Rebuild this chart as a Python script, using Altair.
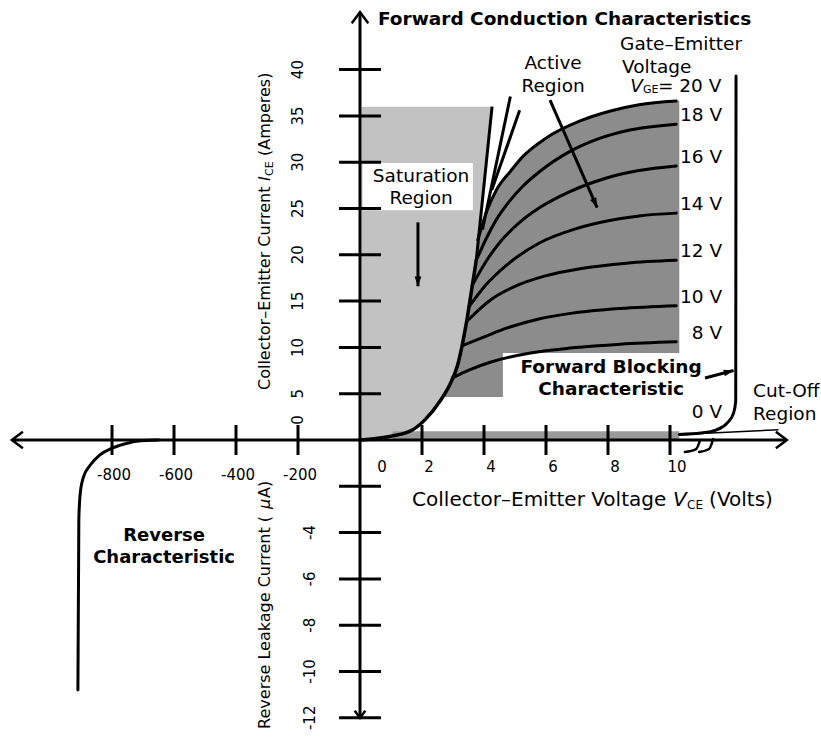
import math
import numpy as np
import pandas as pd
import altair as alt

FONT = "DejaVu Sans"
INK = "#000000"

# ---------------- values ----------------
# Output characteristics: one curve per gate-emitter voltage (V_CE in V, I_CE in A)
vge_levels = [20, 18, 16, 14, 12, 10, 8]
vce_curves = [
    [3.8, 4.1, 4.4, 4.85, 5.25, 6.0, 7.1, 8.05, 9.0, 10.2],
    [3.75, 4.05, 4.4, 4.85, 5.25, 5.8, 6.85, 7.75, 8.6, 10.2],
    [3.62, 4.05, 4.5, 5.15, 5.8, 6.75, 7.95, 9.0, 10.2],
    [3.52, 4.05, 4.7, 5.8, 6.95, 8.05, 9.0, 10.2],
    [3.44, 4.2, 5.0, 5.95, 7.1, 8.6, 10.2],
    [3.3, 4.05, 4.75, 5.8, 6.85, 8.4, 10.2],
    [2.98, 3.55, 4.2, 5.5, 6.85, 8.4, 10.2],
]
ice_curves = [
    [21.6, 24.8, 27.0, 29.0, 30.6, 32.6, 34.45, 35.5, 36.2, 36.6],
    [19.4, 21.6, 23.8, 25.9, 27.4, 29.0, 31.3, 32.6, 33.4, 34.1],
    [16.7, 19.2, 21.3, 23.5, 25.1, 26.8, 28.3, 29.1, 29.6],
    [14.4, 16.7, 18.8, 21.3, 22.8, 23.7, 24.2, 24.5],
    [12.8, 15.1, 16.6, 17.7, 18.5, 19.1, 19.4],
    [10.2, 11.2, 12.1, 13.1, 13.7, 14.2, 14.5],
    [6.7, 7.6, 8.4, 9.4, 9.95, 10.35, 10.6],
]

# Saturation boundary (knee curve) from the origin
sat_v = [0, 1.0, 1.7, 2.1, 2.6, 2.9, 3.15, 3.3, 3.45, 3.6, 3.75]
sat_i = [0, 0.4, 1.1, 2.2, 4.3, 6.0, 8.1, 10.3, 13.0, 16.2, 19.4]
# Steep on-state lines rising out of the knee
steep_v = [[3.75, 4.26], [3.95, 4.85], [4.25, 5.15]]
steep_i = [[19.4, 36.0], [22.7, 37.1], [27.0, 35.6]]
sat_top_i = 36.0

# Forward blocking / avalanche characteristic (V_GE = 0 V)
block_v = [10.3, 11.0, 11.5, 11.85, 12.05, 12.12, 12.13]
block_i = [0.6, 0.75, 1.1, 1.85, 2.9, 4.2, 39.3]
cutoff_v = [10.3, 13.5]
cutoff_i = [0.6, 1.1]

# Reverse characteristic (V in volts, leakage in microamperes)
rev_v = [-650, -720, -760, -800, -840, -870, -893, -903, -907, -910]
rev_ua = [0, -0.05, -0.17, -0.35, -0.65, -1.08, -1.64, -2.38, -3.46, -10.8]

# Axis ticks
y_ticks_amp = [5, 10, 15, 20, 25, 30, 35, 40]
y_ticks_ua = [-2, -4, -6, -8, -10, -12]
y_labels_ua = [-4, -6, -8, -10, -12]
x_ticks_volt = [2, 4, 6, 8, 10]
x_ticks_rev = [-200, -400, -600, -800]

# ---------------- coordinate mapping ----------------
# positive V in volts, negative V in hundreds of volts;
# positive current in units of 5 A, negative current in units of 2 uA
def xu(v):
    return v if v >= 0 else v / 100.0


def yu(i):
    return i / 5.0 if i >= 0 else i / 2.0


XMIN, XMAX = -11.613, 14.871
YMIN, YMAX = -6.436, 9.503
W, H = 821, 738
PXX = W / (XMAX - XMIN)
PXY = H / (YMAX - YMIN)

X = alt.X("x:Q", scale=alt.Scale(domain=[XMIN, XMAX], nice=False, zero=False), axis=None)
Y = alt.Y("y:Q", scale=alt.Scale(domain=[YMIN, YMAX], nice=False, zero=False), axis=None)


def frame(vs, cs):
    df = pd.DataFrame({"x": [xu(v) for v in vs], "y": [yu(c) for c in cs]})
    df["k"] = range(len(df))
    return df


def line(vs, cs, width=3.0):
    return alt.Chart(frame(vs, cs)).mark_line(
        color=INK, strokeWidth=width, strokeCap="round", strokeJoin="round", interpolate="monotone"
    ).encode(x=X, y=Y, order="k:Q")


def straight(vs, cs, width=3.0):
    return alt.Chart(frame(vs, cs)).mark_line(color=INK, strokeWidth=width, strokeCap="butt").encode(
        x=X, y=Y, order="k:Q")


def text(rows, size=18, weight="normal", style="normal", align="center", angle=0, dx=0, dy=0):
    df = pd.DataFrame(rows, columns=["v", "c", "label"])
    df["x"] = [xu(v) for v in df.v]
    df["y"] = [yu(c) for c in df.c]
    return alt.Chart(df).mark_text(
        font=FONT, fontSize=size, fontWeight=weight, fontStyle=style, align=align,
        baseline="middle", angle=angle, dx=dx, dy=dy, color=INK,
    ).encode(x=X, y=Y, text="label:N")


def heading(p0, p1):
    ddx = (xu(p1[0]) - xu(p0[0])) * PXX
    ddy = (yu(p1[1]) - yu(p0[1])) * PXY
    return math.degrees(math.atan2(ddx, ddy)) % 360


CHEVRON = "M-0.75,1L0,0L0.75,1"
HEAD = "M0,0L-0.55,1.6L0.55,1.6Z"


def marker(v, c, shape, angle, size, filled):
    return alt.Chart(frame([v], [c])).mark_point(
        shape=shape, angle=angle, size=size, filled=filled, color=INK,
        strokeWidth=2.5, opacity=1,
    ).encode(x=X, y=Y)


def hband(levels, left, right):
    # horizontal area: for each current level, fill from left to right voltage
    return pd.DataFrame({
        "y": [yu(c) for c in levels],
        "x": [xu(v) for v in left],
        "x0": [xu(v) for v in right],
    })


layers = []

# ---------------- shaded regions ----------------
# Saturation region (left of the knee curve)
stip_i = sat_i + [sat_top_i]
stip_v = sat_v + [steep_v[0][1]]
stip = hband(stip_i, stip_v, [0.05] * len(stip_i))
layers.append(alt.Chart(stip).mark_area(orient="horizontal", color="#c2c2c2", opacity=1).encode(
    y=Y, x=X, x2="x0:Q"))

# Active region (right of the knee curve, below the 20 V curve)
lo_low, lo_high, step_v, right_v = 4.64, 9.4, 4.61, 10.3
edge = [(lo_low, float(np.interp(lo_low, sat_i, sat_v)))]
edge += [(c, v) for v, c in zip(sat_v, sat_i) if c > lo_low]
edge += [(c, v) for v, c in zip(vce_curves[0], ice_curves[0])]
e_i = [p[0] for p in edge]
e_v = [p[1] for p in edge]
step_left = float(np.interp(lo_high, e_i, e_v))
lv, ll, lr = [], [], []
for c, v in edge:
    if c < lo_high:
        lv.append(c); ll.append(v); lr.append(step_v)
lv += [lo_high, lo_high + 0.001]; ll += [step_left, step_left]; lr += [step_v, right_v]
for c, v in edge:
    if c > lo_high + 0.001:
        lv.append(c); ll.append(v); lr.append(right_v)
hatch = hband(lv, ll, lr)
layers.append(alt.Chart(hatch).mark_area(orient="horizontal", color="#8c8c8c", opacity=1).encode(
    y=Y, x=X, x2="x0:Q"))

# Cut-off band along the voltage axis
band = pd.DataFrame({"x": [xu(1.05)], "x0": [xu(10.3)], "y": [yu(0.95)], "y0": [yu(0.05)]})
layers.append(alt.Chart(band).mark_rect(color="#9a9a9a").encode(x=X, x2="x0:Q", y=Y, y2="y0:Q"))

# Clear box behind the saturation label
box = pd.DataFrame({"x": [xu(0.08)], "x0": [xu(3.64)], "y": [yu(29.9)], "y0": [yu(24.8)]})
layers.append(alt.Chart(box).mark_rect(color="white").encode(x=X, x2="x0:Q", y=Y, y2="y0:Q"))

# ---------------- axes ----------------
layers.append(straight([-1123, 13.77], [0, 0], width=3))
layers.append(straight([0, 0], [46.2, -12.0], width=3))
layers.append(marker(0, 46.2, CHEVRON, 0, 484, False))
layers.append(marker(-1123, 0, CHEVRON, 270, 484, False))
layers.append(marker(13.77, 0, CHEVRON, 90, 484, False))
layers.append(marker(0, -12.0, CHEVRON, 180, 200, False))

yt = frame([0] * (len(y_ticks_amp) + len(y_ticks_ua)), y_ticks_amp + y_ticks_ua)
layers.append(alt.Chart(yt).mark_tick(orient="horizontal", size=42, thickness=3, color=INK, opacity=1).encode(
    x=X, y=Y))
xt = frame(x_ticks_volt + x_ticks_rev, [0] * (len(x_ticks_volt) + len(x_ticks_rev)))
layers.append(alt.Chart(xt).mark_tick(orient="vertical", size=30, thickness=3, color=INK, opacity=1).encode(
    x=X, y=Y))

# tick labels
layers.append(text([(0, a, str(a)) for a in y_ticks_amp], size=15, angle=270, dy=-62))
layers.append(text([(0, 0, "0")], size=15, angle=270, dy=-62, dx=20))
layers.append(text([(0, u, str(u)) for u in y_labels_ua], size=15, angle=270, dy=-50))
layers.append(text([(v, 0, str(v)) for v in x_ticks_volt], size=15, dx=7, dy=27))
layers.append(text([(0, 0, "0")], size=15, dx=22, dy=27))
layers.append(text([(v, 0, str(v)) for v in x_ticks_rev], size=15, dx=2, dy=35))

# ---------------- curves ----------------
layers.append(line(sat_v, sat_i, width=3.5))
for sv, si in zip(steep_v, steep_i):
    layers.append(straight(sv, si, width=3))
for vs, cs in zip(vce_curves, ice_curves):
    layers.append(line(vs, cs, width=3))
layers.append(line(block_v, block_i, width=3))
layers.append(straight(cutoff_v, cutoff_i, width=1.5))
layers.append(line(rev_v, rev_ua, width=3))

# axis break marks
layers.append(line([10.48, 10.84, 10.97], [-0.52, -0.39, 0.0], width=2.5))
layers.append(line([10.94, 11.26, 11.39], [-0.52, -0.39, 0.1], width=2.5))

# ---------------- annotation arrows ----------------
arrows = [
    ([6.13, 7.65], [36.7, 25.1]),
    ([1.87, 1.87], [23.5, 16.6]),
    ([11.13, 12.05], [6.7, 7.5]),
]
for av, ai in arrows:
    layers.append(straight(av, ai, width=3))
    ang = heading((av[0], ai[0]), (av[1], ai[1]))
    layers.append(marker(av[1], ai[1], HEAD, ang, 150, True))

# ---------------- text ----------------
layers.append(text([(0.58, 45.46, "Forward Conduction Characteristics")], size=18.5, weight="bold", align="left"))
layers.append(text([(8.39, 42.76, "Gate\u2013Emitter"), (8.45, 40.28, "Voltage")], size=18.5, align="left"))
layers.append(text([(9.13, 38.2, "V")], size=18.5, style="italic", align="right"))
layers.append(text([(9.13, 38.2, "GE")], size=11, align="left", dy=4))
layers.append(text([(9.61, 38.2, "= 20 V")], size=18.5, align="left"))
layers.append(text([(6.23, 40.7, "Active"), (6.23, 38.2, "Region")], size=18.5))
gate_rows = [(11.68, cs[-1], f"{g} V") for g, cs in zip(vge_levels[1:], ice_curves[1:])]
layers.append(text(gate_rows, size=18.5, align="right", dy=-9))
layers.append(text([(11.68, 3.0, "0 V")], size=18.5, align="right"))
layers.append(text([(1.97, 28.5, "Saturation"), (1.97, 26.1, "Region")], size=18.5))
layers.append(text([(8.1, 7.85, "Forward Blocking"), (8.1, 5.55, "Characteristic")], size=18.5, weight="bold"))
layers.append(text([(12.68, 5.29, "Cut-Off"), (12.68, 2.81, "Region")], size=18.5, align="left"))
layers.append(text([(-632, -4.15, "Reverse"), (-632, -5.1, "Characteristic")], size=18, weight="bold"))

# axis titles, built from plain / italic / subscript pieces
xt_v, xt_c = 1.68, -2.59
layers.append(text([(xt_v, xt_c, "Collector\u2013Emitter Voltage")], size=20, align="left"))
layers.append(text([(xt_v, xt_c, "V")], size=20, style="italic", align="left", dx=261))
layers.append(text([(xt_v, xt_c, "CE")], size=12, align="left", dx=275, dy=5))
layers.append(text([(xt_v, xt_c, "(Volts)")], size=20, align="left", dx=297))

yt_c = 5.4
layers.append(text([(0, yt_c, "Collector\u2013Emitter Current")], size=16, align="left", angle=270, dy=-95))
layers.append(text([(0, yt_c, "I")], size=16, style="italic", align="left", angle=270, dy=-95, dx=209))
layers.append(text([(0, yt_c, "CE")], size=11, align="left", angle=270, dy=-90, dx=214))
layers.append(text([(0, yt_c, "(Amperes)")], size=16, align="left", angle=270, dy=-95, dx=234))

yr_c = -12.48
layers.append(text([(0, yr_c, "Reverse Leakage Current (")], size=16, align="left", angle=270, dy=-95))
layers.append(text([(0, yr_c, "\u03bc")], size=16, style="italic", align="left", angle=270, dy=-95, dx=220))
layers.append(text([(0, yr_c, "A)")], size=16, align="left", angle=270, dy=-95, dx=231))

chart = alt.layer(*layers).properties(
    width=W, height=H, padding=0, autosize=alt.AutoSizeParams(type="none")
).configure_view(stroke=None)

chart.save("out.html", embed_options={"renderer": "svg", "actions": False})
